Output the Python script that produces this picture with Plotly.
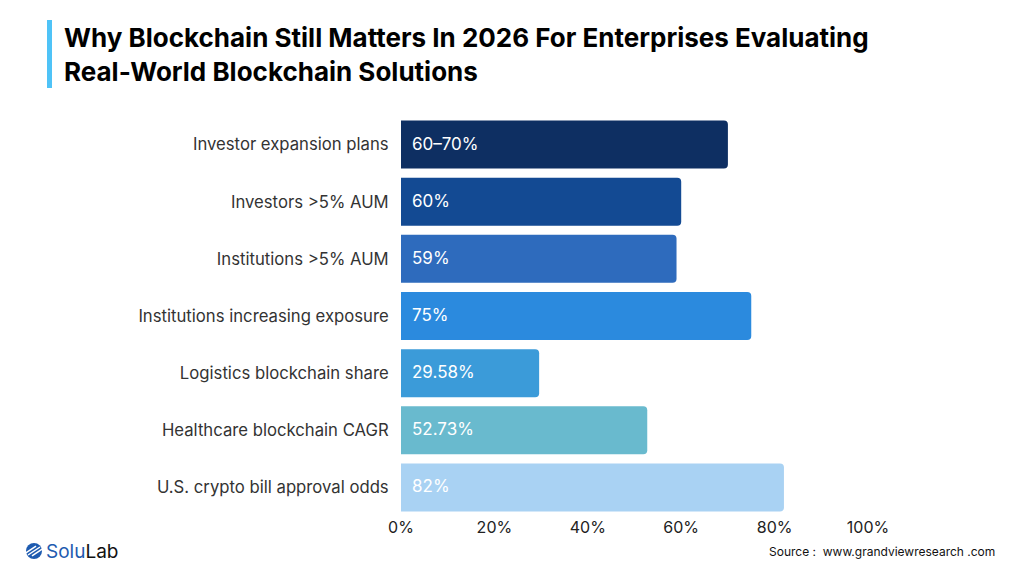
import plotly.graph_objects as go

categories = [
    "Investor expansion plans",
    "Investors >5% AUM",
    "Institutions >5% AUM",
    "Institutions increasing exposure",
    "Logistics blockchain share",
    "Healthcare blockchain CAGR",
    "U.S. crypto bill approval odds",
]
values = [70, 60, 59, 75, 29.58, 52.73, 82]
value_labels = ["60–70%", "60%", "59%", "75%", "29.58%", "52.73%", "82%"]
bar_colors = ["#0e2f62", "#134a93", "#2e6bbd", "#2b8ade", "#3b9bd9", "#69bace", "#a9d2f3"]
tick_vals = [0, 20, 40, 60, 80, 100]
tick_text = ["0%", "20%", "40%", "60%", "80%", "100%"]

L, T, PW, PH = 401, 116, 467, 400

def px(x):
    return (x - L) / PW

def py(y):
    return 1 - (y - T) / PH

fig = go.Figure()
fig.add_trace(go.Bar(
    y=categories, x=values, orientation="h",
    marker=dict(color=bar_colors, line=dict(width=0)),
    hoverinfo="skip",
))

for cat, lab in zip(categories, value_labels):
    fig.add_annotation(x=0, y=cat, xref="x", yref="y", text=lab, showarrow=False,
                       xanchor="left", xshift=9, yshift=1,
                       font=dict(family="Inter", size=17, color="#ffffff"))

fig.update_layout(
    width=1024, height=577,
    margin=dict(l=L, r=1024 - L - PW, t=T, b=577 - T - PH),
    paper_bgcolor="white", plot_bgcolor="white",
    bargap=0.16, barcornerradius=4,
    showlegend=False,
    xaxis=dict(range=[0, 100], tickvals=tick_vals, ticktext=tick_text, showgrid=False,
               zeroline=False, showline=False, ticks="", ticklen=0,
               tickfont=dict(family="Inter", size=16, color="#222222")),
    yaxis=dict(autorange="reversed", showgrid=False, zeroline=False, showline=False,
               ticks="outside", ticklen=8, tickcolor="rgba(0,0,0,0)",
               tickfont=dict(family="Inter", size=16.7, color="#333333")),
)

# title accent bar
fig.add_shape(type="rect", xref="paper", yref="paper",
              x0=px(47), x1=px(52), y0=py(20), y1=py(88),
              fillcolor="#4fc3f7", line=dict(width=0))

fig.add_annotation(xref="paper", yref="paper", x=px(62), y=py(55),
                   xanchor="left", yanchor="middle", showarrow=False, align="left",
                   text="<b>Why Blockchain Still Matters In 2026 For Enterprises Evaluating<br>Real-World Blockchain Solutions</b>",
                   font=dict(family="Inter", size=26, color="#000000"))

# logo icon
fig.add_shape(type="circle", xref="paper", yref="paper",
              x0=px(26), x1=px(42), y0=py(559), y1=py(543),
              fillcolor="#1e5bb0", line=dict(width=0))
for d in (-4, 0, 4):
    fig.add_shape(type="line", xref="paper", yref="paper",
                  x0=px(28 + d), x1=px(40 + d), y0=py(555 + d * 0.2), y1=py(547 + d * 0.2),
                  line=dict(color="white", width=1.5))
fig.add_annotation(xref="paper", yref="paper", x=px(44), y=py(551),
                   xanchor="left", yanchor="middle", showarrow=False,
                   text="<span style='color:#1e5bb0'>Solu</span><span style='color:#111111'>Lab</span>",
                   font=dict(family="Inter", size=19))

fig.add_annotation(xref="paper", yref="paper", x=px(997), y=py(551),
                   xanchor="right", yanchor="middle", showarrow=False,
                   text="Source :  www.grandviewresearch .com",
                   font=dict(family="Inter", size=12, color="#111111"))

fig.write_html("out.html")
